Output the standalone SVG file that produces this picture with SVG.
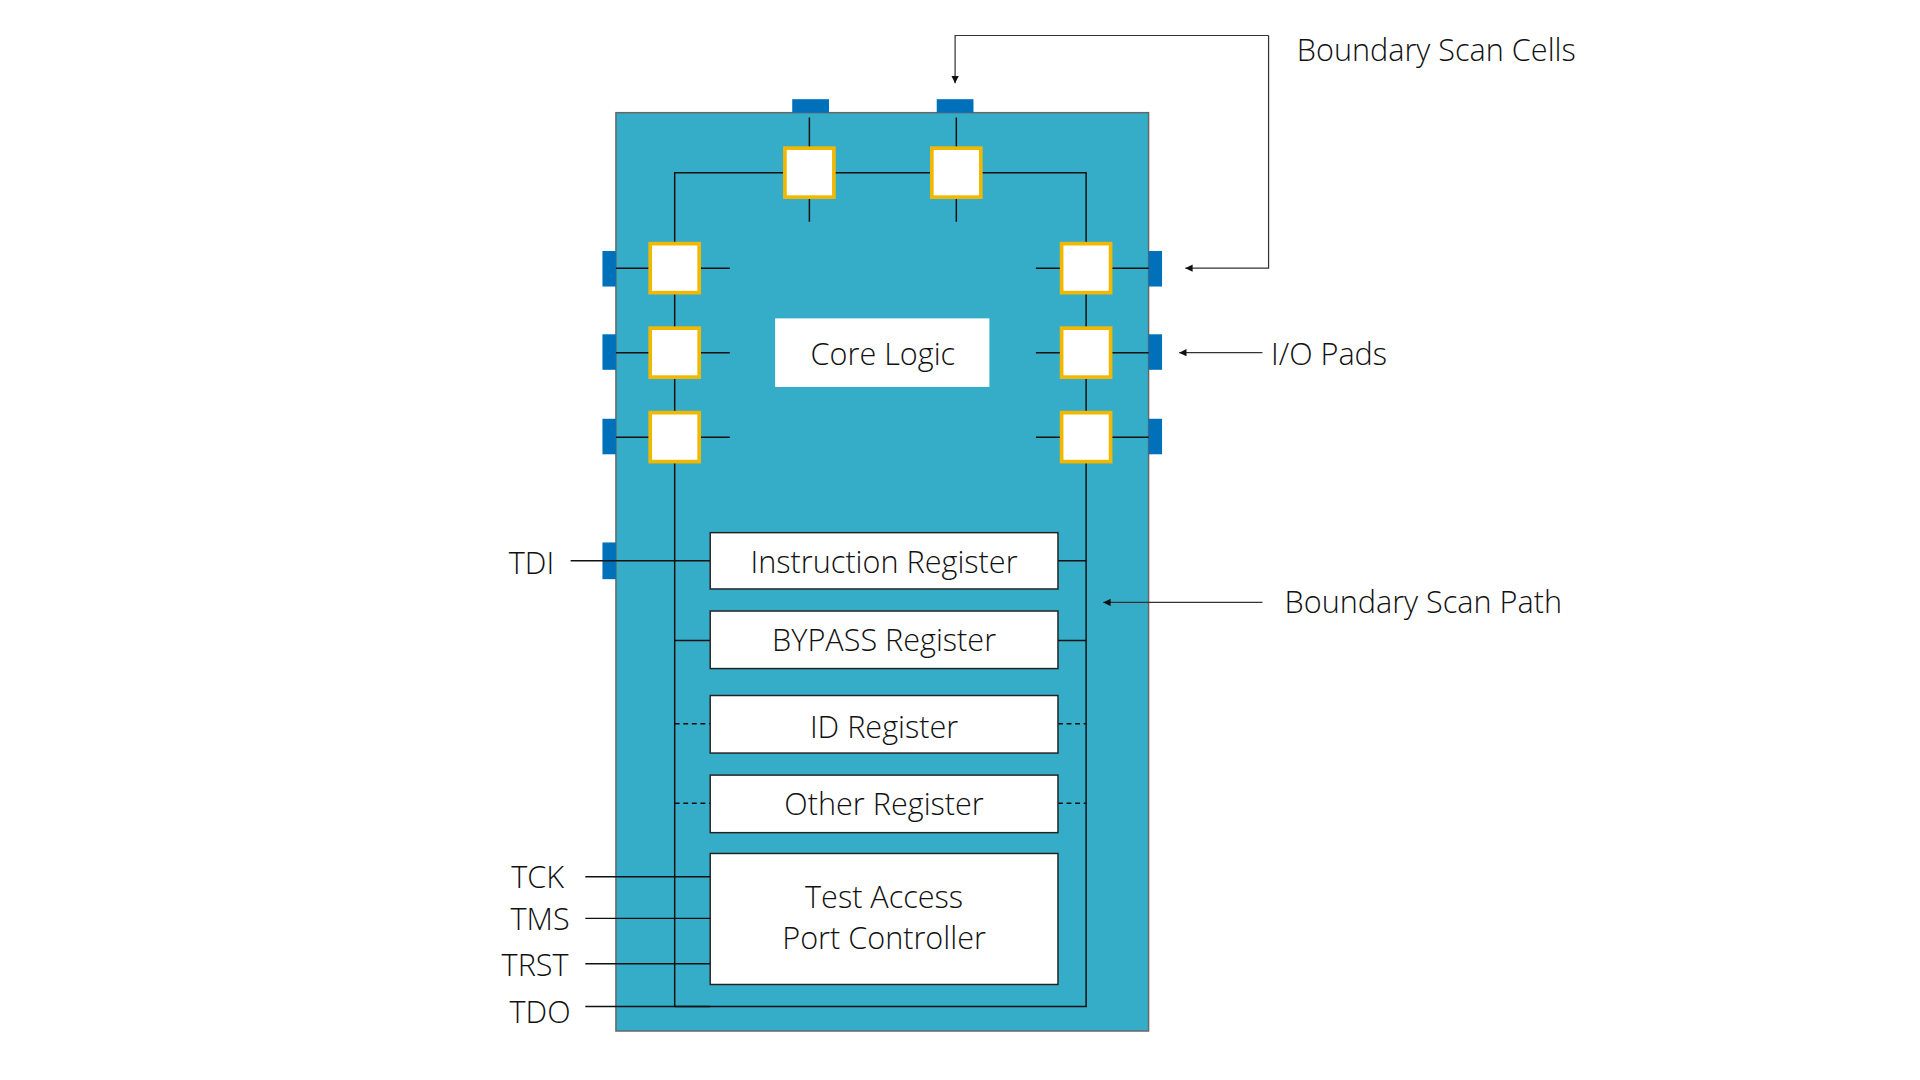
<svg xmlns="http://www.w3.org/2000/svg" width="1920" height="1080" viewBox="0 0 1920 1080">
<style>
text{font-family:"Open Sans","Liberation Sans",sans-serif;font-weight:300;font-size:25px;fill:#111;dominant-baseline:central}
.c{text-anchor:middle}
.pad{fill:#0070ba}
.cell{fill:#fff;stroke:#f2b800;stroke-width:3}
.box{fill:#fff;stroke:#222;stroke-width:1.2}
.w{stroke:#111;stroke-width:1.2;fill:none}
.d{stroke:#111;stroke-width:1.2;stroke-dasharray:4 3}
.a{stroke:#333;stroke-width:1;fill:none;marker-end:url(#ar)}
</style>
<defs><marker id="ar" markerWidth="8" markerHeight="8" refX="6" refY="3" orient="auto" markerUnits="userSpaceOnUse"><path d="M0,0 L6,3 L0,6z" fill="#111"/></marker></defs>
<rect width="1920" height="1080" fill="#fff"/>
<g transform="scale(1.22449)">
<g id="chip"><rect x="503" y="92" width="435" height="750" fill="#36adc8" stroke="#666" stroke-width="1.2"/></g>
<g id="pads">
<rect class="pad" x="647" y="81" width="30" height="11"/><rect class="pad" x="765" y="81" width="30" height="11"/>
<rect class="pad" x="492" y="205" width="11" height="29"/><rect class="pad" x="492" y="273" width="11" height="29"/><rect class="pad" x="492" y="342" width="11" height="29"/>
<rect class="pad" x="938" y="205" width="11" height="29"/><rect class="pad" x="938" y="273" width="11" height="29"/><rect class="pad" x="938" y="342" width="11" height="29"/>
<rect class="pad" x="492" y="443" width="11" height="30"/>
</g>
<g id="connectors">
<path class="w" d="M551,822 V141 H887 V822 H551 M661,96 V181 M781,96 V181"/>
<path class="w" d="M503,219 H596 M503,288 H596 M503,357 H596 M846,219 H938 M846,288 H938 M846,357 H938"/>
<path class="w" d="M466,458 H580 M551,523 H580 M864,458 H887 M864,523 H887 M478,716 H580 M478,750 H580 M478,787 H580 M478,822 H580"/>
<path class="d" d="M551,591 H580 M551,656 H580 M864,591 H887 M864,656 H887"/>
<path class="a" d="M1036,29 H780 V68"/>
<path class="a" d="M1036,29 V219 H968"/>
<path class="a" d="M1031,288 H963"/>
<path class="a" d="M1031,492 H901"/>
</g>
<g id="cells">
<rect class="cell" x="641" y="121" width="40" height="40"/><rect class="cell" x="761" y="121" width="40" height="40"/>
<rect class="cell" x="531" y="199" width="40" height="40"/><rect class="cell" x="531" y="268" width="40" height="40"/><rect class="cell" x="531" y="337" width="40" height="40"/>
<rect class="cell" x="867" y="199" width="40" height="40"/><rect class="cell" x="867" y="268" width="40" height="40"/><rect class="cell" x="867" y="337" width="40" height="40"/>
</g>
<g id="core"><rect x="633" y="260" width="175" height="56" fill="#fff"/><text class="c" x="721" y="288">Core Logic</text></g>
<g id="ir"><rect class="box" x="580" y="435" width="284" height="46"/><text class="c" x="722" y="458">Instruction Register</text></g>
<g id="bypass"><rect class="box" x="580" y="499" width="284" height="47"/><text class="c" x="722" y="522">BYPASS Register</text></g>
<g id="id"><rect class="box" x="580" y="568" width="284" height="47"/><text class="c" x="722" y="593">ID Register</text></g>
<g id="other"><rect class="box" x="580" y="633" width="284" height="47"/><text class="c" x="722" y="656">Other Register</text></g>
<g id="tap"><rect class="box" x="580" y="697" width="284" height="107"/><text class="c" x="722" y="732">Test Access</text><text class="c" x="722" y="765">Port Controller</text></g>
<g id="labels">
<text class="c" x="434" y="459">TDI</text><text class="c" x="439" y="715">TCK</text><text class="c" x="441" y="750">TMS</text><text class="c" x="437" y="787">TRST</text><text class="c" x="441" y="826">TDO</text>
<text x="1059" y="40">Boundary Scan Cells</text><text x="1038" y="288">I/O Pads</text><text x="1049" y="491">Boundary Scan Path</text>
</g>
</g>
</svg>
